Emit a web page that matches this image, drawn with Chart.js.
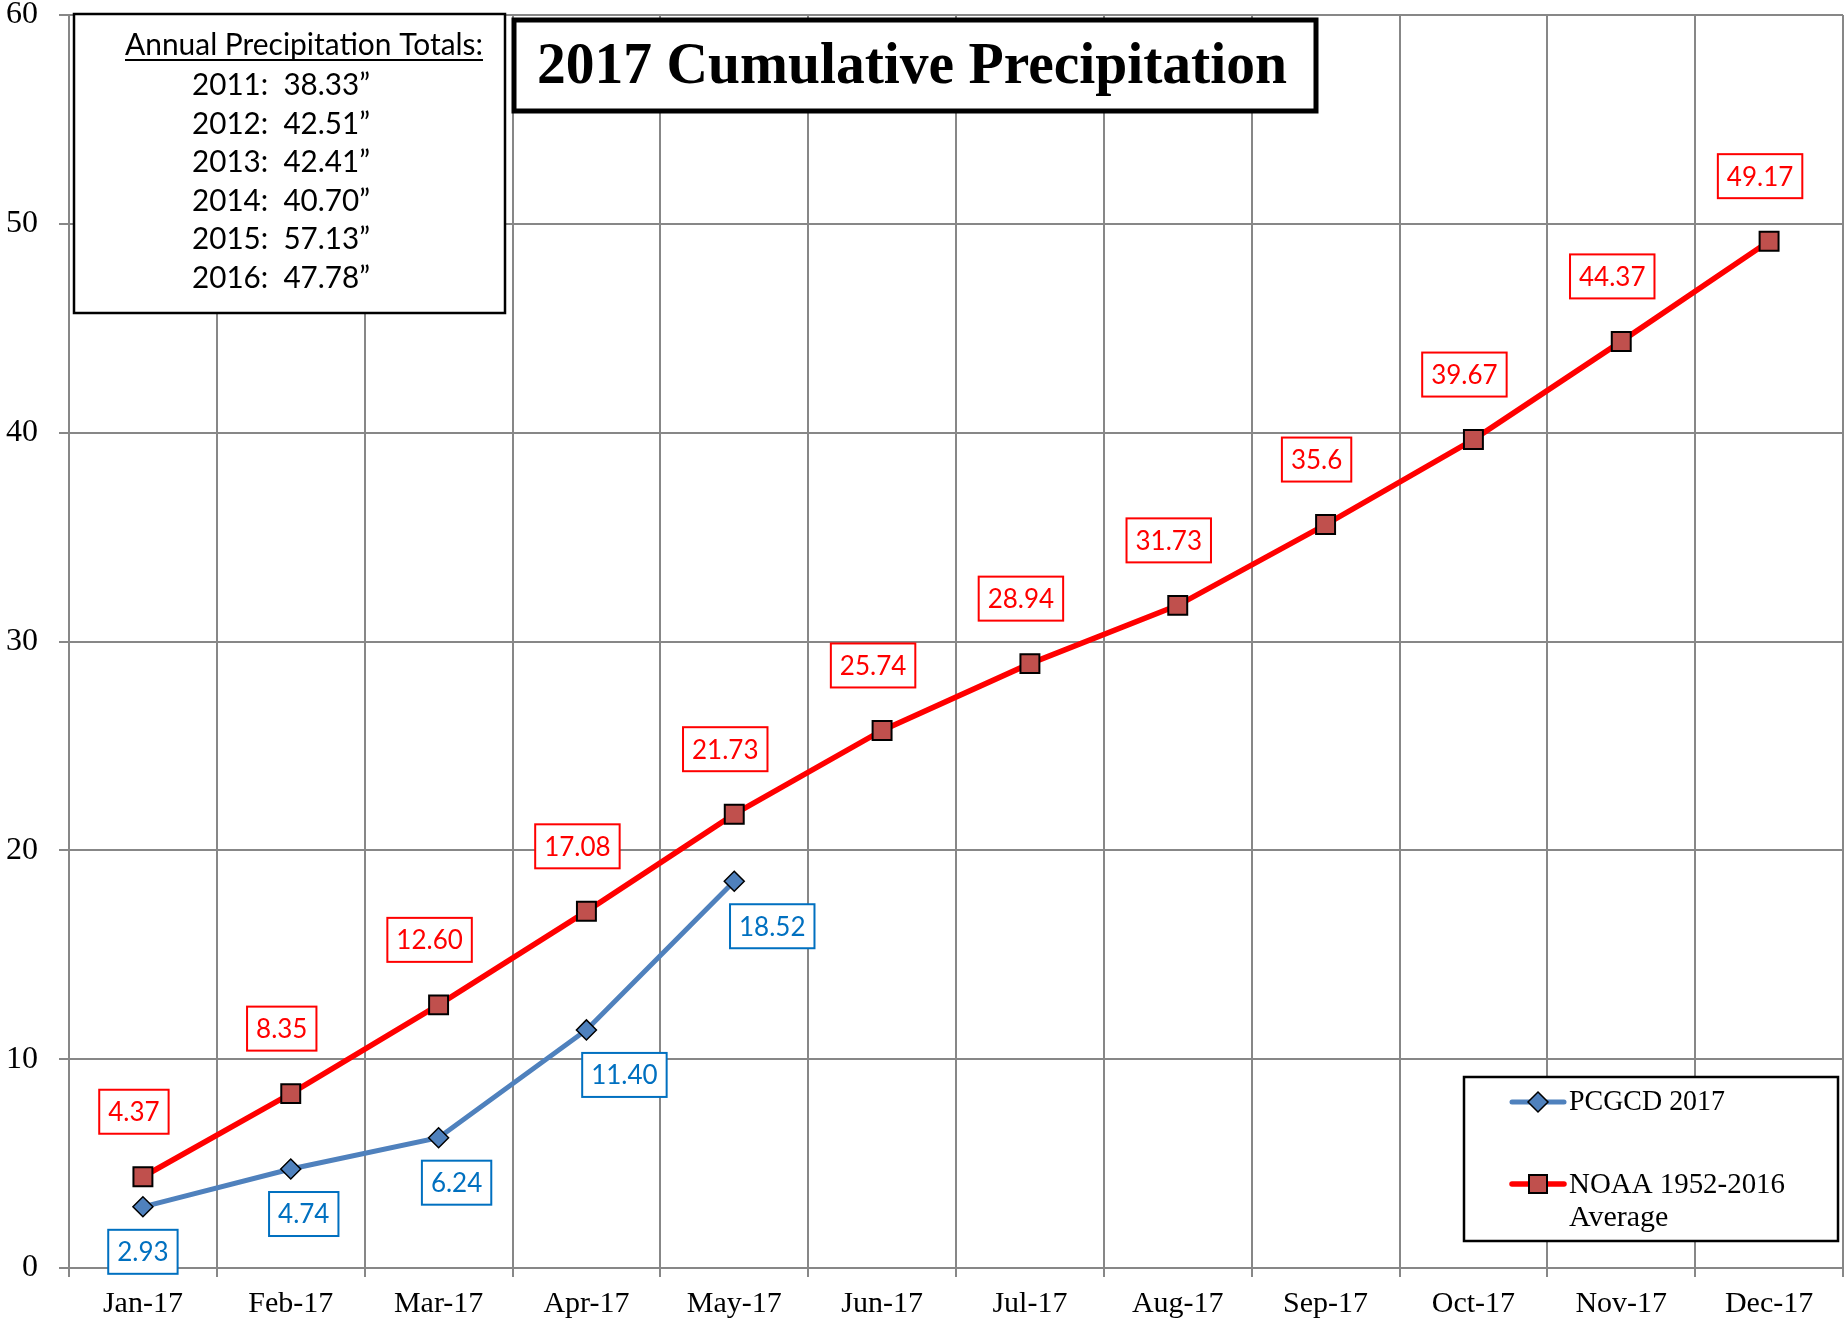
<!DOCTYPE html>
<html>
<head>
<meta charset="utf-8">
<script src="https://cdn.jsdelivr.net/npm/chart.js@4.4.1/dist/chart.umd.min.js"></script>
<style>
  body { margin: 0; background: #fff; }
  #wrap { width: 1845px; height: 1323px; position: relative; }
</style>
</head>
<body>
<div id="wrap"><canvas id="precipChart"></canvas></div>
<script>
// chart data
const months = ['Jan-17', 'Feb-17', 'Mar-17', 'Apr-17', 'May-17', 'Jun-17',
  'Jul-17', 'Aug-17', 'Sep-17', 'Oct-17', 'Nov-17', 'Dec-17'];
const pcgcd2017 = [2.93, 4.74, 6.24, 11.40, 18.52, null, null, null, null, null, null, null];
const pcgcdLabels = ['2.93', '4.74', '6.24', '11.40', '18.52'];
const noaaAverage = [4.37, 8.35, 12.60, 17.08, 21.73, 25.74, 28.94, 31.73, 35.6, 39.67, 44.37, 49.17];
const noaaLabels = ['4.37', '8.35', '12.60', '17.08', '21.73', '25.74', '28.94', '31.73', '35.6', '39.67', '44.37', '49.17'];
const totalYears = ['2011', '2012', '2013', '2014', '2015', '2016'];
const totalValues = ['38.33', '42.51', '42.41', '40.70', '57.13', '47.78'];
const yMin = 0, yMax = 60, yStep = 10;

const GRID = '#878787';
const SERIF = '"Liberation Serif", "DejaVu Serif", serif';
const SANS = 'Lato, "Open Sans", sans-serif';

function drawLabelBox(ctx, text, cx, cy, color) {
  ctx.font = '26px ' + SANS;
  const w = ctx.measureText(text).width + 18;
  const h = 44;
  ctx.fillStyle = '#fff';
  ctx.fillRect(cx - w / 2, cy - h / 2, w, h);
  ctx.strokeStyle = color;
  ctx.lineWidth = 2;
  ctx.strokeRect(cx - w / 2, cy - h / 2, w, h);
  ctx.fillStyle = color;
  ctx.textAlign = 'center';
  ctx.textBaseline = 'middle';
  ctx.fillText(text, cx, cy + 1);
}

const overlay = {
  id: 'overlay',
  afterDatasetsDraw(chart, args, opts) {
    const ctx = chart.ctx;
    ctx.save();
    const blue = chart.getDatasetMeta(0).data;
    pcgcdLabels.forEach((t, i) => {
      const p = blue[i];
      drawLabelBox(ctx, t, p.x + opts.blueShift[i], p.y + 45, '#0070C0');
    });
    const red = chart.getDatasetMeta(1).data;
    noaaLabels.forEach((t, i) => {
      const p = red[i];
      drawLabelBox(ctx, t, p.x - 9, p.y - 65, '#FF0000');
    });
    ctx.restore();
  },
  afterDraw(chart) {
    const ctx = chart.ctx;
    ctx.save();

    // annual totals box
    ctx.fillStyle = '#fff';
    ctx.fillRect(74, 14, 431, 299);
    ctx.strokeStyle = '#000';
    ctx.lineWidth = 2.5;
    ctx.strokeRect(74, 14, 431, 299);
    ctx.fillStyle = '#000';
    ctx.textBaseline = 'alphabetic';
    ctx.textAlign = 'left';
    ctx.font = '30px ' + SANS;
    ctx.fillText('Annual Precipitation Totals:', 125, 55, 358);
    ctx.fillRect(125, 59, 358, 2);
    totalYears.forEach((yr, i) => {
      ctx.fillText(yr + ':  ' + totalValues[i] + '\u201D', 192, 95 + i * 38.5, 178);
    });

    // title box
    ctx.fillStyle = '#fff';
    ctx.fillRect(514, 20, 802, 91);
    ctx.lineWidth = 5;
    ctx.strokeRect(514, 20, 802, 91);
    ctx.fillStyle = '#000';
    ctx.font = 'bold 59px ' + SERIF;
    ctx.textAlign = 'center';
    ctx.fillText('2017 Cumulative Precipitation', 912, 83, 750);

    // legend box
    ctx.fillStyle = '#fff';
    ctx.fillRect(1464, 1077, 374, 164);
    ctx.lineWidth = 2.5;
    ctx.strokeRect(1464, 1077, 374, 164);

    ctx.lineCap = 'round';
    ctx.lineWidth = 5;
    ctx.strokeStyle = '#4F81BD';
    ctx.beginPath(); ctx.moveTo(1512, 1102); ctx.lineTo(1564, 1102); ctx.stroke();
    ctx.fillStyle = '#4F81BD';
    ctx.strokeStyle = '#000';
    ctx.lineWidth = 1.5;
    ctx.beginPath();
    ctx.moveTo(1538, 1092); ctx.lineTo(1548, 1102); ctx.lineTo(1538, 1112); ctx.lineTo(1528, 1102);
    ctx.closePath(); ctx.fill(); ctx.stroke();

    ctx.lineWidth = 5.5;
    ctx.strokeStyle = '#FF0000';
    ctx.beginPath(); ctx.moveTo(1512, 1184); ctx.lineTo(1564, 1184); ctx.stroke();
    ctx.fillStyle = '#C0504D';
    ctx.strokeStyle = '#000';
    ctx.lineWidth = 2;
    ctx.fillRect(1529, 1175, 18, 18);
    ctx.strokeRect(1529, 1175, 18, 18);

    ctx.fillStyle = '#000';
    ctx.textAlign = 'left';
    ctx.textBaseline = 'middle';
    ctx.font = '30px ' + SERIF;
    ctx.fillText('PCGCD 2017', 1569, 1102, 156);
    ctx.fillText('NOAA 1952-2016', 1569, 1185, 216);
    ctx.fillText('Average', 1569, 1218, 104);
    ctx.restore();
  }
};

const ctx = document.getElementById('precipChart').getContext('2d');
const myChart = new Chart(ctx, {
  type: 'line',
  data: {
    labels: months,
    datasets: [
      {
        label: 'PCGCD 2017',
        data: pcgcd2017,
        borderColor: '#4F81BD',
        borderWidth: 5,
        backgroundColor: '#4F81BD',
        pointStyle: 'rectRot',
        pointRadius: 10,
        pointBorderColor: '#000',
        pointBorderWidth: 1.5,
        pointBackgroundColor: '#4F81BD',
        spanGaps: false,
        fill: false
      },
      {
        label: 'NOAA 1952-2016 Average',
        data: noaaAverage,
        borderColor: '#FF0000',
        borderWidth: 5.5,
        backgroundColor: '#C0504D',
        pointStyle: 'rect',
        pointRadius: 13.4,
        pointBorderColor: '#000',
        pointBorderWidth: 2,
        pointBackgroundColor: '#C0504D',
        fill: false
      }
    ]
  },
  options: {
    responsive: true,
    maintainAspectRatio: false,
    animation: false,
    layout: { autoPadding: false, padding: { left: 0, right: 2, top: 15, bottom: 0 } },
    plugins: {
      legend: { display: false },
      title: { display: false },
      tooltip: { enabled: false },
      overlay: { blueShift: [0, 13, 18, 38, 38] }
    },
    scales: {
      x: {
        offset: true,
        grid: { offset: true, color: GRID, lineWidth: 2, tickLength: 9 },
        border: { color: GRID, width: 2 },
        ticks: {
          color: '#000',
          font: { family: SERIF, size: 30, lineHeight: 1.2 },
          padding: 9,
          maxRotation: 0,
          autoSkip: false
        },
        afterFit(scale) {
          scale.height = 55;
          scale.paddingLeft = 0; scale.paddingRight = 0;
          scale.paddingTop = 0; scale.paddingBottom = 0;
        }
      },
      y: {
        min: yMin,
        max: yMax,
        grid: { color: GRID, lineWidth: 2, tickLength: 10 },
        border: { color: GRID, width: 2 },
        ticks: {
          stepSize: yStep,
          color: '#000',
          font: { family: SERIF, size: 32, lineHeight: 1 },
          padding: 21
        },
        afterFit(scale) {
          scale.width = 69;
          scale.paddingLeft = 0; scale.paddingRight = 0;
          scale.paddingTop = 0; scale.paddingBottom = 0;
        }
      }
    }
  },
  plugins: [overlay]
});
</script>
</body>
</html>
